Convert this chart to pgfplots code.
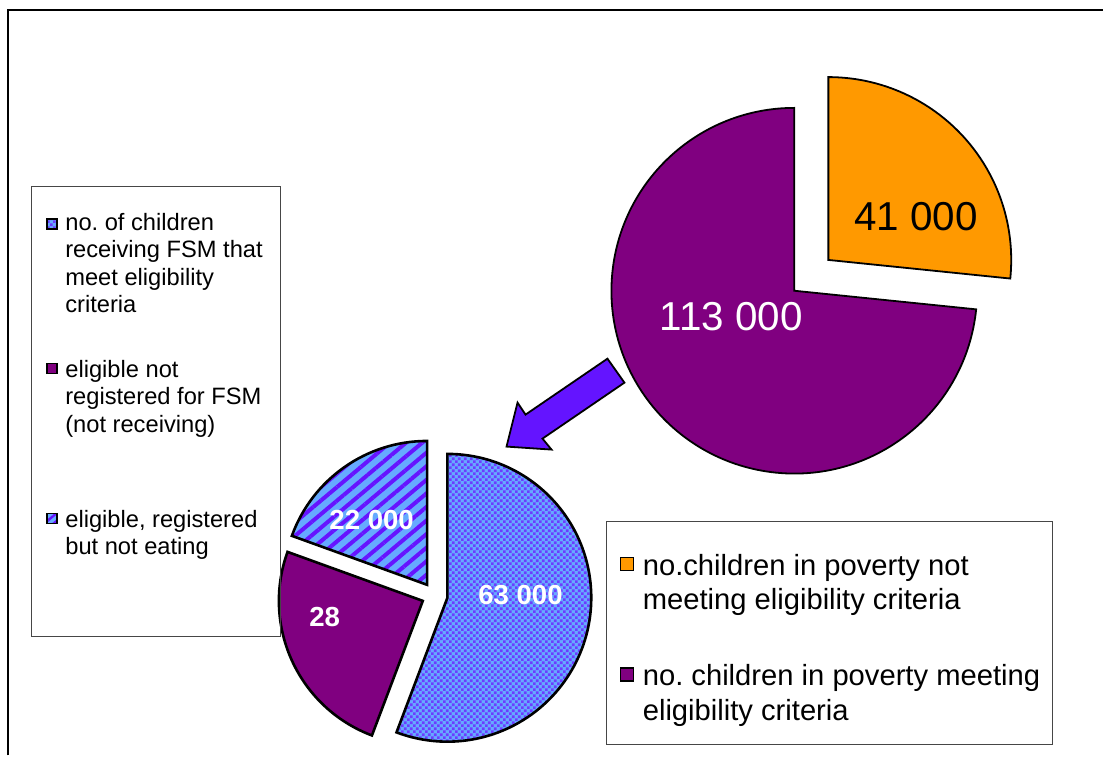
\documentclass[border=0pt]{standalone}
\usepackage{pgfplots}
\pgfplotsset{compat=1.18}
\usepackage{pgfplotstable}
\usepackage{fontspec}
\setmainfont{Liberation Sans}
\usetikzlibrary{patterns,patterns.meta}
\frenchspacing

\definecolor{orangeS}{RGB}{255,153,0}
\definecolor{purpleS}{RGB}{128,0,128}
\definecolor{lblue}{RGB}{102,170,255}
\definecolor{violetS}{RGB}{102,20,255}
\definecolor{checkV}{RGB}{108,60,255}
\definecolor{arrowC}{RGB}{100,20,255}
\definecolor{boxC}{RGB}{70,70,70}

\pgfdeclarepatternformonly{checker}{\pgfpointorigin}{\pgfpoint{3pt}{3pt}}{\pgfpoint{3pt}{3pt}}{%
  \pgfpathrectangle{\pgfpointorigin}{\pgfpoint{1.3pt}{1.3pt}}%
  \pgfpathrectangle{\pgfpoint{1.5pt}{1.5pt}}{\pgfpoint{1.3pt}{1.3pt}}%
  \pgfusepath{fill}}

% big pie: children in poverty
\pgfplotstableread{
label value
notmeeting 41000
meeting 113000
}\bigpie
% small pie: breakdown of eligible children
\pgfplotstableread{
label value
receiving 63000
notregistered 28000
noteating 22000
}\smallpie

\pgfplotstablegetelem{0}{value}\of\bigpie \edef\va{\pgfplotsretval}
\pgfplotstablegetelem{1}{value}\of\bigpie \edef\vb{\pgfplotsretval}
\pgfplotstablegetelem{0}{value}\of\smallpie \edef\sa{\pgfplotsretval}
\pgfplotstablegetelem{1}{value}\of\smallpie \edef\sb{\pgfplotsretval}
\pgfplotstablegetelem{2}{value}\of\smallpie \edef\sc{\pgfplotsretval}
% angles (clockwise from 12 o'clock)
\edef\eO{\fpeval{90-360*\va/(\va+\vb)}}
\edef\bO{\fpeval{90-180*\va/(\va+\vb)}}
\edef\eA{\fpeval{90-360*\sa/(\sa+\sb+\sc)}}
\edef\bA{\fpeval{90-180*\sa/(\sa+\sb+\sc)}}
\edef\eB{\fpeval{\eA-360*\sb/(\sa+\sb+\sc)}}
\edef\bB{\fpeval{\eA-180*\sb/(\sa+\sb+\sc)}}
\edef\bC{\fpeval{\eB-180*\sc/(\sa+\sb+\sc)}}

\begin{document}
\begin{tikzpicture}
\begin{axis}[
  x=0.5pt, y=0.5pt,
  xmin=0, xmax=1104, ymin=0, ymax=756,
  hide axis, clip=false,
  xtick=\empty, ytick=\empty,
]
\path (axis cs:0,0) rectangle (axis cs:1104,756);
% outer frame
\draw[line width=1pt] (axis cs:8,0) -- (axis cs:8,746) -- (axis cs:1104,746);

% big pie
\filldraw[fill=orangeS, draw=black, line width=0.9pt]
  (axis cs:795,465) ++(\bO:23pt) -- ++(90:91.5pt)
  arc[start angle=90, end angle=\eO, radius=91.5pt] -- cycle;
\filldraw[fill=purpleS, draw=black, line width=0.9pt]
  (axis cs:795,465) -- ++(\eO:91.5pt)
  arc[start angle=\eO, end angle=-270, radius=91.5pt] -- cycle;
\node[font=\fontsize{20.2}{23}\selectfont, text=black, inner sep=0] at (axis cs:917,539) {41 000};
\node[font=\fontsize{20.2}{23}\selectfont, text=white, inner sep=0] at (axis cs:732,439) {113 000};

% small pie
\filldraw[preaction={fill=lblue}, pattern=checker, pattern color=checkV, draw=black, line width=1.3pt]
  (axis cs:435,160) ++(\bA:6.5pt) -- ++(90:72pt)
  arc[start angle=90, end angle=\eA, radius=72pt] -- cycle;
\filldraw[fill=purpleS, draw=black, line width=1.3pt]
  (axis cs:435,160) ++(\bB:6.5pt) -- ++(\eA:72pt)
  arc[start angle=\eA, end angle=\eB, radius=72pt] -- cycle;
\filldraw[preaction={fill=lblue}, pattern={Lines[angle=40, distance=5.2pt, line width=2pt]}, pattern color=violetS, draw=black, line width=1.3pt]
  (axis cs:435,160) ++(\bC:6.5pt) -- ++(\eB:72pt)
  arc[start angle=\eB, end angle=-270, radius=72pt] -- cycle;
\node[font=\fontsize{13.8}{16}\selectfont\bfseries, text=white, inner sep=0] at (axis cs:372,236) {22 000};
\node[font=\fontsize{13.8}{16}\selectfont\bfseries, text=white, inner sep=0] at (axis cs:325,138) {28};
\node[font=\fontsize{13.8}{16}\selectfont\bfseries, text=white, inner sep=0] at (axis cs:521,160) {63 000};

% arrow
\filldraw[fill=arrowC, draw=black, line width=0.9pt, line join=miter]
  (axis cs:608,397) -- (axis cs:526,341) -- (axis cs:518,353) -- (axis cs:507,309)
  -- (axis cs:552,306) -- (axis cs:543,317) -- (axis cs:625,373) -- cycle;

% left legend
\draw[boxC, line width=0.5pt] (axis cs:32,119) rectangle (axis cs:281,569);
\filldraw[preaction={fill=lblue}, pattern=checker, pattern color=checkV, draw=black, line width=0.8pt]
  (axis cs:47,527) rectangle (axis cs:57,537);
\filldraw[fill=purpleS, draw=black, line width=0.8pt] (axis cs:47,382) rectangle (axis cs:57,392);
\filldraw[preaction={fill=lblue}, pattern={Lines[angle=40, distance=3pt, line width=1.2pt]}, pattern color=violetS, draw=black, line width=0.8pt]
  (axis cs:47,232) rectangle (axis cs:57,242);
\node[anchor=north west, inner sep=0, align=left, font=\fontsize{11.85}{13.75}\selectfont] at (axis cs:65,543)
  {no. of children\\receiving FSM that\\meet eligibility\\criteria};
\node[anchor=north west, inner sep=0, align=left, font=\fontsize{11.85}{13.75}\selectfont] at (axis cs:65,396)
  {eligible not\\registered for FSM\\(not receiving)};
\node[anchor=north west, inner sep=0, align=left, font=\fontsize{11.85}{13.75}\selectfont] at (axis cs:65,246)
  {eligible, registered\\but not eating};

% right legend
\draw[boxC, line width=0.5pt] (axis cs:607,11) rectangle (axis cs:1053,234);
\filldraw[fill=orangeS, draw=black, line width=0.9pt] (axis cs:621,185) rectangle (axis cs:634,198);
\filldraw[fill=purpleS, draw=black, line width=0.9pt] (axis cs:621,74) rectangle (axis cs:634,87);
\node[anchor=north west, inner sep=0, align=left, font=\fontsize{14.6}{17.2}\selectfont] at (axis cs:643,202)
  {no.children in poverty not\\meeting eligibility criteria};
\node[anchor=north west, inner sep=0, align=left, font=\fontsize{14.6}{17.2}\selectfont] at (axis cs:643,91)
  {no. children in poverty meeting\\eligibility criteria};
\end{axis}
\end{tikzpicture}
\end{document}
